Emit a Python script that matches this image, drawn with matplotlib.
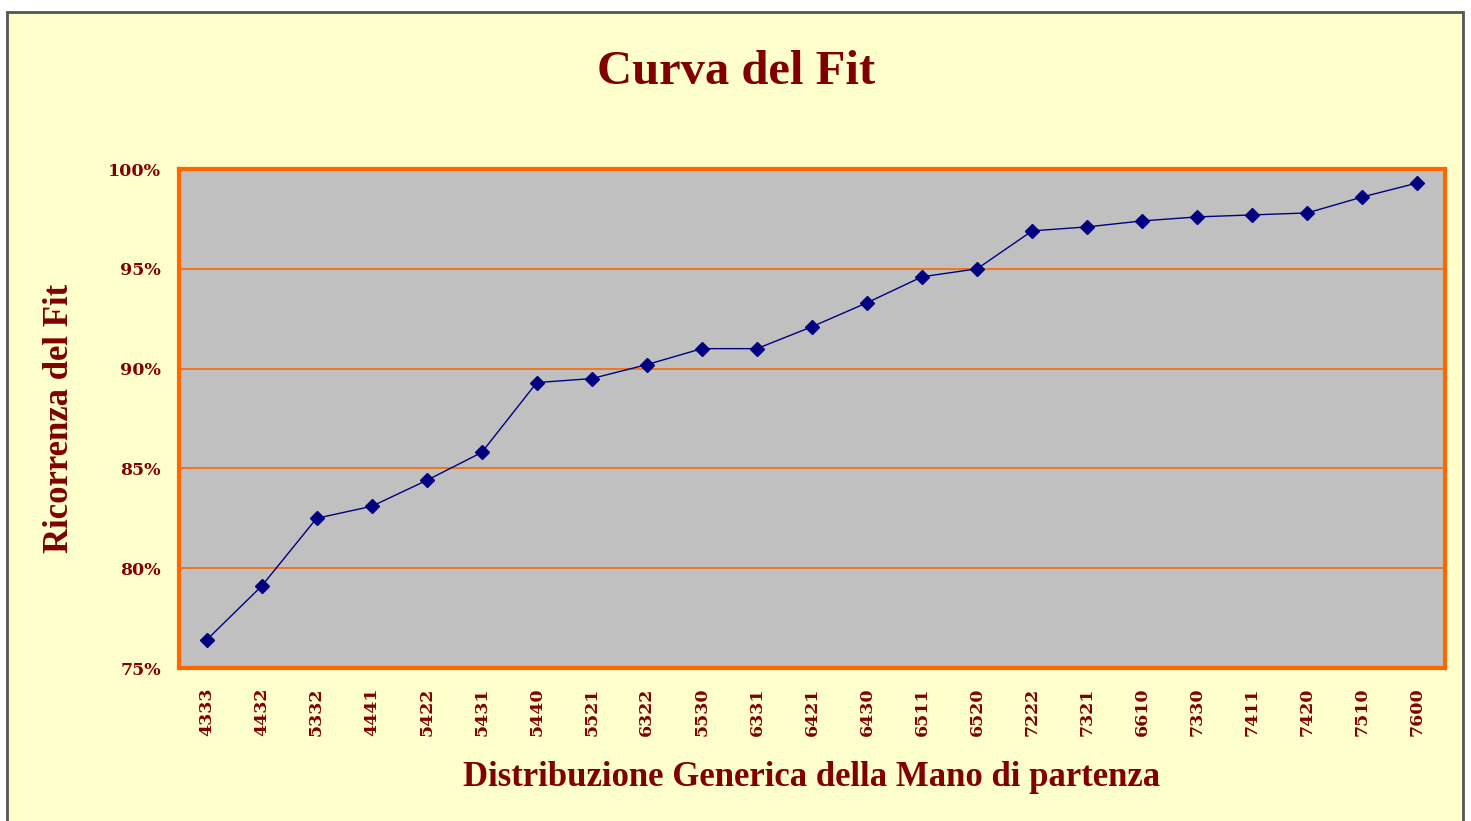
import matplotlib
matplotlib.use("Agg")
import matplotlib.pyplot as plt
from matplotlib.patches import Rectangle
from matplotlib.ticker import FuncFormatter

# distributions (x categories) and fit percentages
distribuzioni = ['4333', '4432', '5332', '4441', '5422', '5431', '5440', '5521',
                 '6322', '5530', '6331', '6421', '6430', '6511', '6520', '7222',
                 '7321', '6610', '7330', '7411', '7420', '7510', '7600']
fit = [76.4, 79.1, 82.5, 83.1, 84.4, 85.8, 89.3, 89.5,
       90.2, 91.0, 91.0, 92.1, 93.3, 94.6, 95.0, 96.9,
       97.1, 97.4, 97.6, 97.7, 97.8, 98.6, 99.3]
yticks = [75, 80, 85, 90, 95, 100]

rosso = '#800000'
arancio = '#FF6600'
font = 'Liberation Serif'
font_tick = 'DejaVu Serif'

fig = plt.figure(figsize=(14.71, 8.21), dpi=100, facecolor='white')

# cream chart area with grey frame
bg = Rectangle((7 / 1471, -0.05), (1463 - 7) / 1471, 1.05 - 12 / 821,
               transform=fig.transFigure, facecolor='#FFFFCC',
               edgecolor='#555555', linewidth=2, zorder=-10)
fig.patches.append(bg)

ax = fig.add_axes([179 / 1471, 1 - 668 / 821, (1445 - 179) / 1471, (668 - 169) / 821])
ax.set_facecolor('#C0C0C0')

x = list(range(len(distribuzioni)))
ax.plot(x, fit, color='#000080', linewidth=1, marker='D', markersize=7,
        markerfacecolor='#000080', markeredgecolor='#000080', zorder=3)

ax.set_xlim(-0.5, len(distribuzioni) - 0.5)
ax.set_ylim(75, 100)
ax.set_yticks(yticks)
ax.yaxis.set_major_formatter(FuncFormatter(lambda v, p: '%d%%' % v))
ax.set_xticks(x)
ax.set_xticklabels(distribuzioni, rotation=90)

ax.grid(axis='y', color=arancio, linewidth=1.2)
ax.set_axisbelow(True)

for s in ax.spines.values():
    s.set_color(arancio)
    s.set_linewidth(3)

ax.tick_params(length=0, labelcolor=rosso)
ax.tick_params(axis='x', pad=14)
ax.tick_params(axis='y', pad=13)
for lab in ax.get_xticklabels() + ax.get_yticklabels():
    lab.set_fontfamily(font_tick)
    lab.set_fontweight('bold')
    lab.set_fontsize(12.5)

ax.set_xlabel('Distribuzione Generica della Mano di partenza', fontfamily=font,
              fontweight='bold', fontsize=25, color=rosso, labelpad=18)
ax.set_ylabel('Ricorrenza del Fit', fontfamily=font, fontweight='bold',
              fontsize=25, color=rosso, labelpad=23)

fig.text(736 / 1471, 1 - 72 / 821, 'Curva del Fit', ha='center', va='center',
         fontfamily=font, fontweight='bold', fontsize=35, color=rosso)

fig.savefig('out.png', dpi=100, facecolor=fig.get_facecolor())
